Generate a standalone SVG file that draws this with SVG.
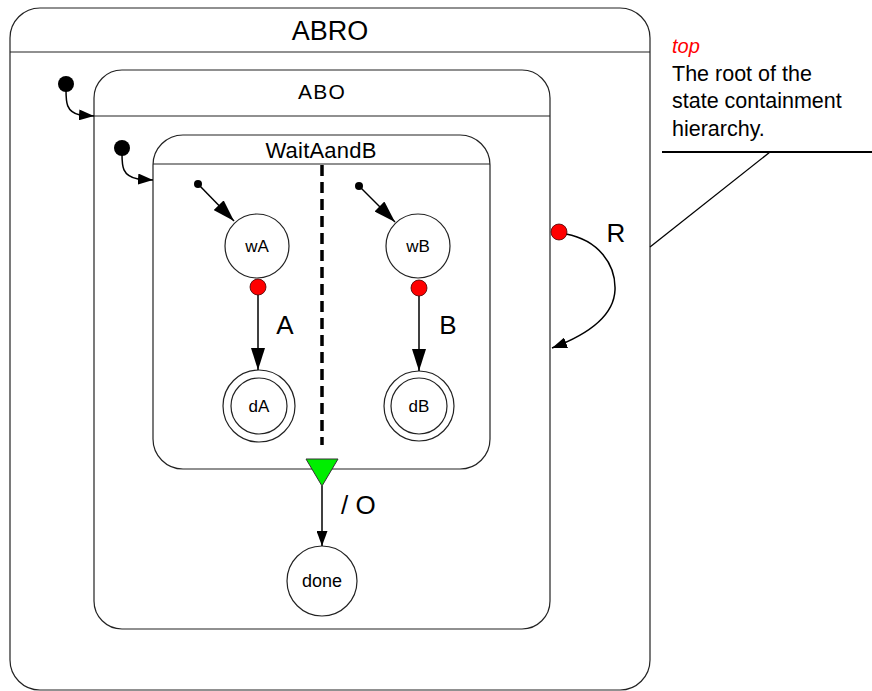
<svg xmlns="http://www.w3.org/2000/svg" width="872" height="691" viewBox="0 0 872 691">
<style>
.st{fill:#fff;stroke:#222;stroke-width:1.2}
.hl{stroke:#222;stroke-width:1.2;fill:none}
.t{font-family:"Liberation Sans",Arial,sans-serif;fill:#000}
.c{fill:none;stroke:#000;stroke-width:1.5}
.dot{fill:#000}
.red{fill:#ff0000;stroke:#400;stroke-width:0.8}
</style>
<defs>
<marker id="big" markerUnits="userSpaceOnUse" viewBox="0 0 22 14" markerWidth="22" markerHeight="14" refX="22" refY="7" orient="auto"><path d="M0,0 L22,7 L0,14 z" fill="#000"/></marker>
<marker id="mid" markerUnits="userSpaceOnUse" viewBox="0 0 15 11" markerWidth="15" markerHeight="11" refX="15" refY="5.5" orient="auto"><path d="M0,0 L15,5.5 L0,11 z" fill="#000"/></marker>
</defs>
<g id="ABRO">
<rect class="st" x="10" y="8" width="640" height="682" rx="30"/>
<line class="hl" x1="10" y1="52" x2="650" y2="52"/>
<text class="t" x="330" y="40" font-size="27" text-anchor="middle">ABRO</text>
</g>
<g id="ABO">
<rect class="st" x="94" y="70" width="456" height="559" rx="28"/>
<line class="hl" x1="94" y1="116" x2="550" y2="116"/>
<text class="t" x="322" y="99" font-size="21" letter-spacing="1.2" text-anchor="middle">ABO</text>
</g>
<g id="WaitAandB">
<rect class="st" x="153" y="135" width="337" height="334" rx="30"/>
<line class="hl" x1="153" y1="164" x2="490" y2="164"/>
<text class="t" x="321" y="158" font-size="22" letter-spacing="0.2" text-anchor="middle">WaitAandB</text>
<line x1="322" y1="165" x2="322" y2="445" stroke="#000" stroke-width="3.5" stroke-dasharray="11,6"/>
</g>
<g id="init1"><circle class="dot" cx="66" cy="84" r="8"/></g>
<g id="init2"><circle class="dot" cx="122" cy="148" r="8"/></g>
<g id="initA"><circle class="dot" cx="198" cy="184" r="4"/></g>
<g id="initB"><circle class="dot" cx="359" cy="186" r="4"/></g>
<g id="wA">
<circle class="st" cx="257" cy="246" r="32"/>
<text class="t" x="257" y="252" font-size="17" text-anchor="middle">wA</text>
</g>
<g id="wB">
<circle class="st" cx="418" cy="246" r="32"/>
<text class="t" x="418" y="252" font-size="17" text-anchor="middle">wB</text>
</g>
<g id="dA">
<circle class="st" cx="259" cy="406" r="36"/>
<circle class="st" cx="259" cy="406" r="28"/>
<text class="t" x="259" y="412" font-size="17" text-anchor="middle">dA</text>
</g>
<g id="dB">
<circle class="st" cx="419" cy="406" r="35"/>
<circle class="st" cx="419" cy="406" r="28"/>
<text class="t" x="419" y="412" font-size="17" text-anchor="middle">dB</text>
</g>
<g id="done">
<circle class="st" cx="322" cy="581" r="35"/>
<text class="t" x="322" y="587" font-size="18" text-anchor="middle">done</text>
</g>
<g id="join">
<polygon points="306,459 338,459 322,486" fill="#00ee00" stroke="#333" stroke-width="1"/>
</g>
<g id="connectors">
<path class="c" d="M66,90 C66,102 66,112 80,115 L94,116" marker-end="url(#mid)"/>
<path class="c" d="M122,154 C122,166 122,176 138,179 L153,180" marker-end="url(#mid)"/>
<line class="c" x1="198" y1="184" x2="234" y2="221" marker-end="url(#big)"/>
<line class="c" x1="359" y1="186" x2="395" y2="222" marker-end="url(#big)"/>
<line class="c" x1="258" y1="295" x2="258" y2="370" marker-end="url(#big)"/>
<line class="c" x1="419" y1="296" x2="419" y2="371" marker-end="url(#big)"/>
<line class="c" x1="322" y1="486" x2="322" y2="546" marker-end="url(#mid)"/>
<path class="c" d="M566,234 C598,240 616,264 615,290 C614,314 592,333 552,348" marker-end="url(#mid)"/>
<circle class="red" cx="258" cy="287" r="8"/>
<circle class="red" cx="419" cy="288" r="8"/>
<circle class="red" cx="559" cy="232" r="8"/>
<text class="t" x="285" y="334" font-size="26" text-anchor="middle">A</text>
<text class="t" x="448" y="334" font-size="26" text-anchor="middle">B</text>
<text class="t" x="616" y="242" font-size="26" text-anchor="middle">R</text>
<text class="t" x="341" y="514" font-size="26">/ O</text>
</g>
<g id="note">
<text class="t" x="672" y="53" font-size="20" font-style="italic" style="fill:#ff0000">top</text>
<text class="t" x="672" y="81" font-size="21.5">The root of the</text>
<text class="t" x="672" y="108" font-size="21.5">state containment</text>
<text class="t" x="672" y="136" font-size="21.5">hierarchy.</text>
<line x1="662" y1="152" x2="872" y2="152" stroke="#000" stroke-width="1.8"/>
<line x1="770" y1="152" x2="650" y2="247" stroke="#000" stroke-width="1.3"/>
</g>
</svg>
